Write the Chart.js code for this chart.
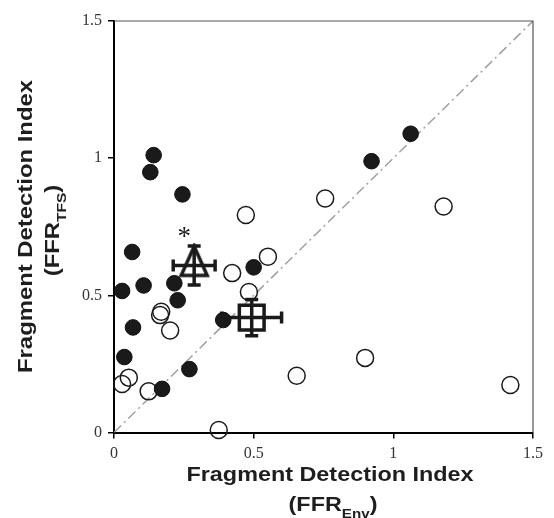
<!DOCTYPE html>
<html lang="en">

<head>
    <meta charset="UTF-8">
    <title>Fragment Detection Index</title>
    <style>
        html, body { margin: 0; padding: 0; background: #fff; }
    </style>
</head>

<body>
    <canvas id="myChart" width="554" height="518"></canvas>
    <script src="https://cdn.jsdelivr.net/npm/chart.js"></script>
    <script>
        // values
        const filledX = [0.142, 0.130, 0.245, 0.065, 0.029, 0.106, 0.216, 0.228, 0.068, 0.037, 0.172, 0.270, 0.391, 0.500, 0.922, 1.062]
        const filledY = [1.011, 0.949, 0.868, 0.658, 0.516, 0.536, 0.544, 0.482, 0.383, 0.275, 0.159, 0.231, 0.410, 0.602, 0.989, 1.089]

        const openX = [0.472, 0.756, 1.180, 0.551, 0.423, 0.483, 0.169, 0.165, 0.201, 0.053, 0.029, 0.124, 0.375, 0.654, 0.899, 1.419]
        const openY = [0.793, 0.853, 0.824, 0.641, 0.581, 0.512, 0.440, 0.428, 0.372, 0.200, 0.177, 0.150, 0.009, 0.207, 0.272, 0.173]

        // group means with error bars
        const triangleX = [0.287]
        const triangleY = [0.609]
        const triangleXErr = [0.075]
        const triangleYErr = [0.071]

        const squareX = [0.493]
        const squareY = [0.419]
        const squareXErr = [0.107]
        const squareYErr = [0.066]

        const diagonal = [0, 1.5]
        const tickValues = [0, 0.5, 1, 1.5]
        const triangleNote = '*'

        const toPoints = (xs, ys) => xs.map((x, i) => ({ x: x, y: ys[i] }))

        // open triangle, a bit taller than wide like the print
        const triImg = document.createElement('canvas')
        triImg.width = 32
        triImg.height = 44
        const tctx = triImg.getContext('2d')
        tctx.strokeStyle = '#1a1a1a'
        tctx.lineWidth = 3.5
        tctx.lineJoin = 'miter'
        tctx.beginPath()
        tctx.moveTo(16, 3)
        tctx.lineTo(29, 32)
        tctx.lineTo(3, 32)
        tctx.closePath()
        tctx.stroke()

        const errorBars = {
            id: 'errorBars',
            afterDatasetDraw(chart, args) {
                const ds = chart.data.datasets[args.index]
                if (!ds.xErr) return
                const ctx = chart.ctx
                const xs = chart.scales.x, ys = chart.scales.y
                ctx.save()
                ctx.strokeStyle = '#1a1a1a'
                ctx.lineWidth = 3.5
                ds.data.forEach((p, i) => {
                    const cx = xs.getPixelForValue(p.x), cy = ys.getPixelForValue(p.y)
                    const x1 = xs.getPixelForValue(p.x - ds.xErr[i]), x2 = xs.getPixelForValue(p.x + ds.xErr[i])
                    const y1 = ys.getPixelForValue(p.y - ds.yErr[i]), y2 = ys.getPixelForValue(p.y + ds.yErr[i])
                    ctx.beginPath()
                    ctx.moveTo(x1, cy); ctx.lineTo(x2, cy)
                    ctx.moveTo(cx, y1); ctx.lineTo(cx, y2)
                    ctx.moveTo(x1, cy - 6); ctx.lineTo(x1, cy + 6)
                    ctx.moveTo(x2, cy - 6); ctx.lineTo(x2, cy + 6)
                    ctx.moveTo(cx - 6.5, y1); ctx.lineTo(cx + 6.5, y1)
                    ctx.moveTo(cx - 6.5, y2); ctx.lineTo(cx + 6.5, y2)
                    ctx.stroke()
                })
                ctx.restore()
            }
        }

        function drawLine(ctx, parts) {
            const big = 'bold 20px "Liberation Sans", Arial, sans-serif'
            const small = 'bold 13px "Liberation Sans", Arial, sans-serif'
            let total = 0
            parts.forEach(p => {
                ctx.font = p.sub ? small : big
                p.w = ctx.measureText(p.t).width
                total += p.w
            })
            let x = -total / 2
            parts.forEach(p => {
                ctx.font = p.sub ? small : big
                ctx.fillText(p.t, x, p.sub ? 7 : 0)
                x += p.w
            })
        }

        const frameAndTitles = {
            id: 'frameAndTitles',
            afterDraw(chart) {
                const ctx = chart.ctx
                const a = chart.chartArea
                ctx.save()
                // top and right edges of the box
                ctx.strokeStyle = '#555'
                ctx.lineWidth = 1.2
                ctx.beginPath()
                ctx.moveTo(a.left, a.top)
                ctx.lineTo(a.right, a.top)
                ctx.lineTo(a.right, a.bottom)
                ctx.stroke()

                ctx.fillStyle = '#1e1e1e'
                ctx.textAlign = 'left'
                ctx.textBaseline = 'alphabetic'

                // x title
                ctx.font = 'bold 20px "Liberation Sans", Arial, sans-serif'
                const sx = 287 / ctx.measureText('Fragment Detection Index').width
                ctx.save()
                ctx.translate(330, 481)
                ctx.scale(sx, 1)
                drawLine(ctx, [{ t: 'Fragment Detection Index' }])
                ctx.restore()
                ctx.save()
                ctx.translate(333, 511)
                ctx.scale(sx, 1)
                drawLine(ctx, [{ t: '(FFR' }, { t: 'Env', sub: true }, { t: ')' }])
                ctx.restore()

                // y title
                ctx.font = 'bold 20px "Liberation Sans", Arial, sans-serif'
                const sy = 293 / ctx.measureText('Fragment Detection Index').width
                ctx.save()
                ctx.translate(31.5, 226.5)
                ctx.rotate(-Math.PI / 2)
                ctx.scale(sy, 1)
                drawLine(ctx, [{ t: 'Fragment Detection Index' }])
                ctx.restore()
                ctx.save()
                ctx.translate(59, 230.5)
                ctx.rotate(-Math.PI / 2)
                ctx.scale(sy, 1)
                drawLine(ctx, [{ t: '(FFR' }, { t: 'TFS', sub: true }, { t: ')' }])
                ctx.restore()

                // significance mark above the triangle
                const tri = chart.getDatasetMeta(3).data[0]
                ctx.font = '27px "Liberation Serif", "Times New Roman", serif'
                ctx.textAlign = 'center'
                ctx.fillStyle = '#1a1a1a'
                ctx.fillText(triangleNote, tri.x - 10, tri.y - 20)
                ctx.restore()
            }
        }

        const tickFont = { family: '"Liberation Serif", "Times New Roman", serif', size: 16 }

        const ctx = document.querySelector('#myChart').getContext('2d')
        let chart = new Chart(ctx, {
            type: 'scatter',
            data: {
                datasets: [{
                    label: 'filled',
                    data: toPoints(filledX, filledY),
                    pointRadius: 7.8,
                    pointBorderWidth: 1,
                    backgroundColor: '#1a1a1a',
                    borderColor: '#111',
                    clip: false
                }, {
                    label: 'open',
                    data: toPoints(openX, openY),
                    pointRadius: 8.5,
                    pointBorderWidth: 1.5,
                    backgroundColor: 'rgba(0,0,0,0)',
                    borderColor: '#1a1a1a',
                    clip: false
                }, {
                    label: 'square',
                    data: toPoints(squareX, squareY),
                    xErr: squareXErr,
                    yErr: squareYErr,
                    pointStyle: 'rect',
                    pointRadius: 17.5,
                    pointBorderWidth: 3.5,
                    backgroundColor: 'rgba(0,0,0,0)',
                    borderColor: '#1a1a1a',
                    clip: false
                }, {
                    label: 'triangle',
                    data: toPoints(triangleX, triangleY),
                    xErr: triangleXErr,
                    yErr: triangleYErr,
                    pointStyle: triImg,
                    pointRadius: 16,
                    clip: false
                }, {
                    label: 'diagonal',
                    data: toPoints(diagonal, diagonal),
                    showLine: true,
                    pointRadius: 0,
                    borderColor: '#a0a0a0',
                    borderWidth: 1.5,
                    borderDash: [10, 4, 2, 4]
                }]
            },
            plugins: [errorBars, frameAndTitles],
            options: {
                responsive: false,
                animation: false,
                devicePixelRatio: 1,
                layout: { padding: { left: 0, top: 15, right: 17, bottom: 0 } },
                plugins: {
                    legend: { display: false },
                    tooltip: { enabled: false }
                },
                scales: {
                    x: {
                        type: 'linear',
                        min: 0,
                        max: 1.5,
                        afterBuildTicks: s => { s.ticks = tickValues.map(v => ({ value: v })) },
                        afterFit: s => { s.height = 85.5 },
                        grid: { drawOnChartArea: false, drawTicks: true, tickLength: 6, color: '#000', lineWidth: 1.5 },
                        border: { color: '#000', width: 2 },
                        ticks: { font: tickFont, color: '#333', padding: 6, maxRotation: 0, autoSkip: false, callback: v => String(v) }
                    },
                    y: {
                        type: 'linear',
                        min: 0,
                        max: 1.5,
                        afterBuildTicks: s => { s.ticks = tickValues.map(v => ({ value: v })) },
                        afterFit: s => { s.width = 114 },
                        grid: { drawOnChartArea: false, drawTicks: true, tickLength: 6, color: '#000', lineWidth: 1.5 },
                        border: { color: '#000', width: 2 },
                        ticks: { font: tickFont, color: '#333', padding: 6, autoSkip: false, callback: v => String(v) }
                    }
                }
            }
        })
    </script>
</body>

</html>
